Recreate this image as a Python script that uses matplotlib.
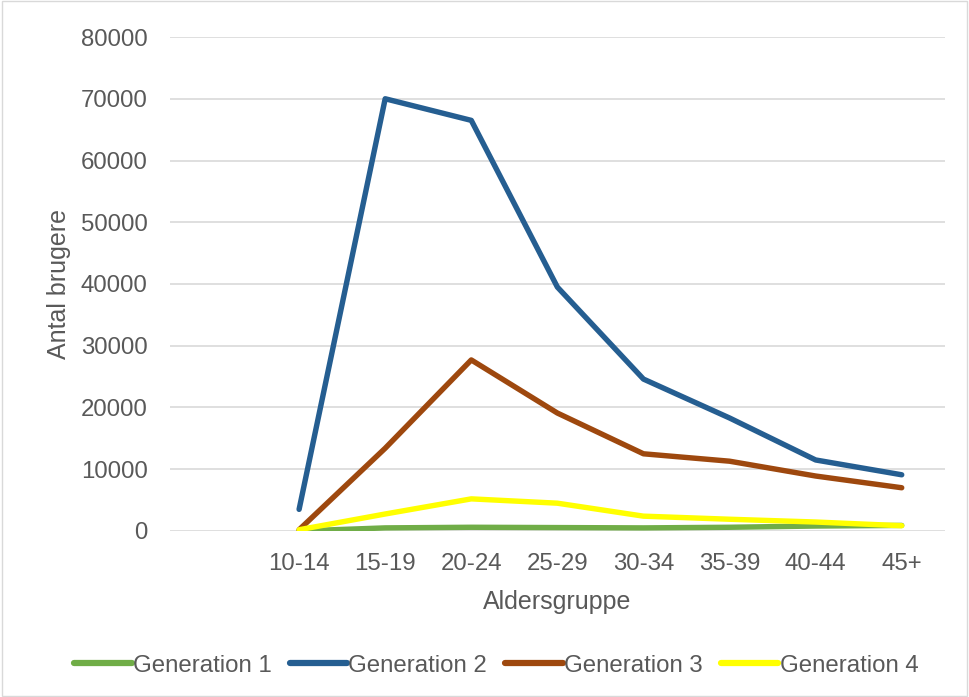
import matplotlib.pyplot as plt
from matplotlib.patches import Rectangle

plt.rcParams['font.family'] = ['Liberation Sans', 'DejaVu Sans']

aldersgrupper = ["", "10-14", "15-19", "20-24", "25-29", "30-34", "35-39", "40-44", "45+"]
gen1 = [None, 0, 500, 600, 550, 500, 600, 800, 900]
gen2 = [None, 3500, 70000, 66500, 39500, 24600, 18300, 11500, 9100]
gen3 = [None, 200, 13400, 27700, 19100, 12500, 11300, 8900, 7000]
gen4 = [None, 200, 2750, 5200, 4500, 2400, 1900, 1450, 850]

serier = [
    ("Generation 1", gen1, "#70AD47"),
    ("Generation 2", gen2, "#255E91"),
    ("Generation 3", gen3, "#9E480E"),
    ("Generation 4", gen4, "#FFFF00"),
]

tekstfarve = "#595959"

fig = plt.figure(figsize=(9.69, 6.97), dpi=100)
ax = fig.add_axes([0.1754, 0.2382, 0.7996, 0.7087])

x = list(range(len(aldersgrupper)))
for navn, vaerdier, farve in serier:
    xs = [i for i, v in zip(x, vaerdier) if v is not None]
    ys = [v for v in vaerdier if v is not None]
    ax.plot(xs, ys, color=farve, linewidth=3.9, label=navn,
            solid_capstyle="round", solid_joinstyle="round")

ax.set_xlim(-0.5, len(aldersgrupper) - 0.5)
ax.set_ylim(0, 80000)
ax.set_yticks(range(0, 80001, 10000))
ax.set_xticks(x)
ax.set_xticklabels(aldersgrupper)
ax.grid(axis="y", color="#D9D9D9", linewidth=1.2)
ax.set_axisbelow(True)
for side in ["top", "right", "left", "bottom"]:
    ax.spines[side].set_visible(False)
ax.tick_params(length=0, labelsize=17.3, colors=tekstfarve)
ax.tick_params(axis="y", pad=16)
ax.tick_params(axis="x", pad=15.5)

ax.set_xlabel("Aldersgruppe", fontsize=18, color=tekstfarve, labelpad=11)
ax.set_ylabel("Antal brugere", fontsize=18, color=tekstfarve, labelpad=7)

leg = fig.legend(loc="center", bbox_to_anchor=(0.512, 0.045), ncol=4, frameon=False,
                 fontsize=17.3, labelcolor=tekstfarve, handlelength=2.4,
                 handletextpad=0.05, columnspacing=0.75)
for linje in leg.get_lines():
    linje.set_linewidth(4.5)

# tynd ramme rundt om hele diagrammet
fig.patches.append(Rectangle((0.002, 0.002), 0.996, 0.996, transform=fig.transFigure,
                             fill=False, edgecolor="#D9D9D9", linewidth=1))

fig.savefig("out.png", dpi=100)
